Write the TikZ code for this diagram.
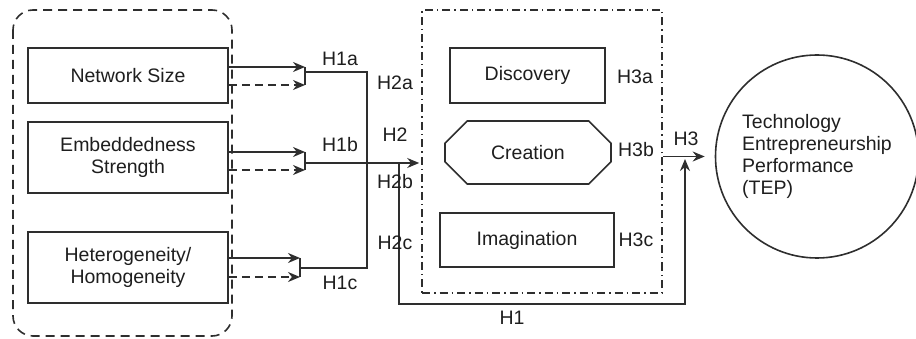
\documentclass[tikz,border=0pt]{standalone}
\usepackage{fontspec}
\setmainfont{Liberation Sans}
\usetikzlibrary{positioning,calc,shapes.misc,arrows.meta}
\definecolor{ink}{HTML}{1E1E1E}
\definecolor{edge}{HTML}{2E2E2E}
\tikzset{
  txt/.style      = {font=\fontsize{19.5}{22}\selectfont, text=ink},
  factor/.style   = {txt, draw=edge, line width=1.6pt, inner sep=0pt, align=center},
  mode/.style     = {txt, draw=edge, line width=1.6pt, inner sep=0pt, align=center},
  octbox/.style   = {mode, chamfered rectangle, chamfered rectangle xsep=15pt, chamfered rectangle ysep=15pt},
  outcome/.style  = {txt, draw=edge, line width=1.6pt, circle, inner sep=0pt, align=left},
  hlab/.style     = {txt, inner sep=0pt, outer sep=0pt},
  netframe/.style = {draw=edge, line width=1.6pt, rounded corners=20pt, dash pattern=on 9pt off 6pt},
  medframe/.style = {draw=edge, line width=1.6pt, dash pattern=on 8pt off 4pt on 1.5pt off 4pt},
  wire/.style     = {draw=edge, line width=1.6pt},
  arr/.style      = {wire, -{Stealth[length=12pt,width=10pt]}},
  darr/.style     = {arr, dash pattern=on 8pt off 5pt},
}

\begin{document}
\begin{tikzpicture}[x=1pt,y=-1pt]
\useasboundingbox (0,0) rectangle (916,339);

% ---- network characteristics --------------------------------------------
\draw[netframe] (13,10) rectangle (232,336);
\node[factor, minimum width=200pt, minimum height=55pt] (size) at (128,75.5) {Network Size};
\node[factor, minimum width=200pt, minimum height=71pt] (embed) at (128,157.5) {Embeddedness\\Strength};
\node[factor, minimum width=200pt, minimum height=71pt] (hetero) at (128,267.5) {Heterogeneity/\\Homogeneity};

% ---- opportunity modes ---------------------------------------------------
\node[medframe, minimum width=240pt, minimum height=283pt] (med) at (542,151.5) {};
\node[mode, minimum width=155pt, minimum height=55pt] (disc) at (527.5,75.5) {Discovery};
\node[octbox, minimum width=166pt, minimum height=63pt] (crea) at (528,152.5) {Creation};
\node[mode, minimum width=174pt, minimum height=54pt] (imag) at (527,240) {Imagination};

% ---- performance ---------------------------------------------------------
\node[outcome, minimum size=203pt] (tep) at (817,156.5) {Technology\\Entrepreneurship\\Performance\\(TEP)};

% ---- joints --------------------------------------------------------------
\coordinate (ja1) at (305,67);  \coordinate (ja2) at (305,85);  \coordinate (oa) at (305,72);
\coordinate (jb1) at (305,152); \coordinate (jb2) at (305,170); \coordinate (ob) at (305,163);
\coordinate (jc1) at (300,258); \coordinate (jc2) at (300,277); \coordinate (oc) at (300,268);
\coordinate (ka) at (367,72);   \coordinate (kc) at (367,268);
\coordinate (ub) at (399,163);  \coordinate (hc) at (685,304);  \coordinate (ht) at (685,159);

% ---- arrows into the joints ----------------------------------------------
\draw[arr]  (size.east |- ja1) -- (ja1);
\draw[darr] (size.east |- ja2) -- (ja2);
\draw[arr]  (embed.east |- jb1) -- (jb1);
\draw[darr] (embed.east |- jb2) -- (jb2);
\draw[arr]  (hetero.east |- jc1) -- (jc1);
\draw[darr] (hetero.east |- jc2) -- (jc2);
\draw[wire] (ja1) -- (ja2);
\draw[wire] (jb1) -- (jb2);
\draw[wire] (jc1) -- (jc2);

% ---- paths onward --------------------------------------------------------
\draw[wire] (oa) -- (ka) -- (kc) -- (oc);
\draw[arr]  (ob) -- ([xshift=-2pt]ob -| med.west);
\draw[arr]  (ub) |- (hc) -- (ht);
\draw[arr]  (med.east |- tep.west) -- ([xshift=-10pt]tep.west);

% ---- labels --------------------------------------------------------------
\node[hlab] at (340,59)  {H1a};
\node[hlab] at (340,145) {H1b};
\node[hlab] at (340,283) {H1c};
\node[hlab] at (395,83)  {H2a};
\node[hlab] at (395,135) {H2};
\node[hlab] at (395,182) {H2b};
\node[hlab] at (395,243) {H2c};
\node[hlab] at (512,318) {H1};
\node[hlab] at (635,77)  {H3a};
\node[hlab] at (636,150) {H3b};
\node[hlab] at (636,240) {H3c};
\node[hlab] at (686,139) {H3};

\end{tikzpicture}
\end{document}
